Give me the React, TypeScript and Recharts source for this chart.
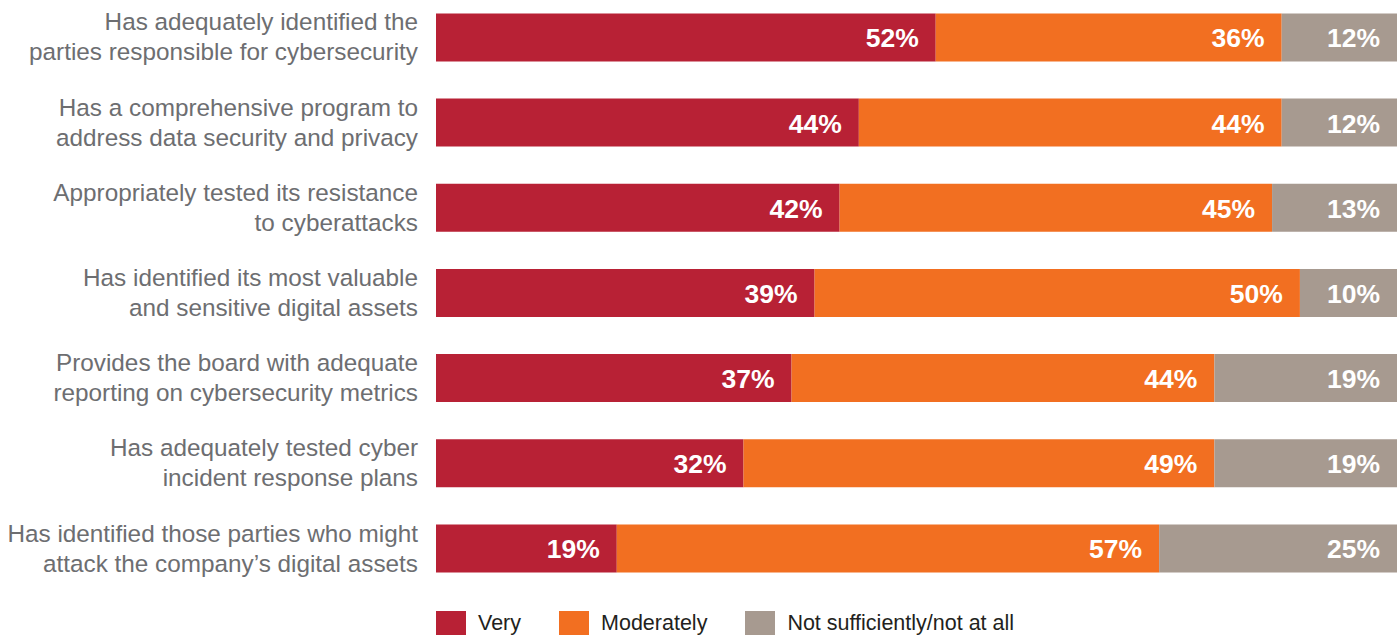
import React from "react";
import { BarChart, Bar, XAxis, YAxis, LabelList } from "recharts";

const categories = [
  "Has adequately identified the\nparties responsible for cybersecurity",
  "Has a comprehensive program to\naddress data security and privacy",
  "Appropriately tested its resistance\nto cyberattacks",
  "Has identified its most valuable\nand sensitive digital assets",
  "Provides the board with adequate\nreporting on cybersecurity metrics",
  "Has adequately tested cyber\nincident response plans",
  "Has identified those parties who might\nattack the company\u2019s digital assets",
];
const very = [52, 44, 42, 39, 37, 32, 19];
const moderately = [36, 44, 45, 50, 44, 49, 57];
const notSufficiently = [12, 12, 13, 10, 19, 19, 25];

const seriesNames = ["Very", "Moderately", "Not sufficiently/not at all"];
const colors = ["#B82135", "#F26F21", "#A79A90"];

const data = categories.map((name, i) => ({
  name,
  very: very[i],
  moderately: moderately[i],
  notSufficiently: notSufficiently[i],
}));

const FONT = '"Liberation Sans", Arial, Helvetica, sans-serif';

const CategoryTick = (props: any) => {
  const { x, y, payload } = props;
  const lines = String(payload.value).split("\n");
  const lh = 30;
  const start = y - ((lines.length - 1) * lh) / 2;
  return (
    <text
      x={x}
      y={start}
      textAnchor="end"
      fill="#6D6E71"
      fontSize={24.3}
      fontFamily={FONT}
    >
      {lines.map((l, i) => (
        <tspan key={i} x={x} y={start + i * lh} dominantBaseline="central">
          {l}
        </tspan>
      ))}
    </text>
  );
};

const ValueLabel = (props: any) => {
  const { x, y, width, height, value } = props;
  return (
    <text
      x={x + width - 17}
      y={y + height / 2 + 1}
      textAnchor="end"
      dominantBaseline="central"
      fill="#FFFFFF"
      fontWeight="bold"
      fontSize={26.5}
      fontFamily={FONT}
    >
      {value}%
    </text>
  );
};

const keys = ["very", "moderately", "notSufficiently"];

export default function App() {
  const chartTop = -20;
  const chartHeight = 655;
  const marginTop = 14.4;
  const plotHeight = 596.2;
  return (
    <div
      style={{
        position: "absolute",
        left: 0,
        top: 0,
        width: 1400,
        height: 635,
        overflow: "hidden",
        background: "#fff",
        fontFamily: FONT,
      }}
    >
      <div style={{ position: "absolute", left: 0, top: chartTop }}>
        <BarChart
          width={1400}
          height={chartHeight}
          data={data}
          layout="vertical"
          stackOffset="expand"
          barSize={48}
          margin={{
            top: marginTop,
            right: 3,
            bottom: chartHeight - marginTop - plotHeight,
            left: 0,
          }}
        >
          <XAxis type="number" hide domain={[0, 1]} />
          <YAxis
            type="category"
            dataKey="name"
            width={436}
            axisLine={false}
            tickLine={false}
            tickSize={0}
            tickMargin={18}
            interval={0}
            tick={<CategoryTick />}
          />
          {keys.map((k, i) => (
            <Bar
              key={k}
              dataKey={k}
              name={seriesNames[i]}
              stackId="a"
              fill={colors[i]}
              isAnimationActive={false}
            >
              <LabelList dataKey={k} content={<ValueLabel />} />
            </Bar>
          ))}
        </BarChart>
      </div>
      <div
        style={{
          position: "absolute",
          left: 436,
          top: 611,
          display: "flex",
          alignItems: "center",
          fontSize: 21.5,
          color: "#231F20",
          fontFamily: FONT,
          whiteSpace: "nowrap",
        }}
      >
        {seriesNames.map((n, i) => (
          <div
            key={n}
            style={{ display: "flex", alignItems: "center", marginRight: 38 }}
          >
            <div
              style={{
                width: 30,
                height: 24,
                background: colors[i],
                marginRight: 12,
              }}
            />
            <span style={{ lineHeight: "24px" }}>{n}</span>
          </div>
        ))}
      </div>
    </div>
  );
}
